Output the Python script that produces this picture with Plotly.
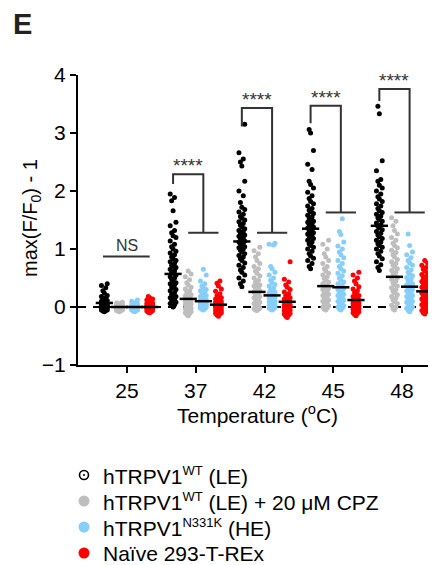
import plotly.graph_objects as go

# ---------------- data ----------------
temps = ["25", "37", "42", "45", "48"]
SUP = "<sup><span style='font-size:13px'>{}</span></sup>"
series_names = [
    "hTRPV1" + SUP.format("WT") + " (LE)",
    "hTRPV1" + SUP.format("WT") + " (LE) + 20 \u03bcM CPZ",
    "hTRPV1" + SUP.format("N331K") + " (HE)",
    "Na\u00efve 293-T-REx",
]

wt_25 = [-0.08,-0.07,-0.06,-0.05,-0.05,-0.04,-0.03,-0.03,-0.02,-0.02,-0.01,-0.01,0.0,0.0,0.01,0.01,0.02,0.02,0.03,0.03,0.04,0.04,0.05,0.05,0.06,0.07,0.08,0.09,0.1,0.11,0.12,0.14,0.16,0.18,0.2,0.24,0.28,0.33,0.37,0.4]
wt_37 = [0.0,0.02,0.04,0.06,0.08,0.1,0.12,0.14,0.16,0.18,0.2,0.22,0.25,0.28,0.3,0.33,0.35,0.38,0.4,0.42,0.45,0.48,0.5,0.52,0.55,0.58,0.6,0.62,0.65,0.68,0.7,0.72,0.75,0.78,0.8,0.83,0.86,0.9,0.93,0.96,1.0,1.04,1.08,1.14,1.2,1.23,1.28,1.32,1.4,1.46,1.66,1.83,1.89,1.95]
wt_42 = [0.35,0.4,0.45,0.5,0.55,0.6,0.64,0.68,0.72,0.76,0.8,0.83,0.86,0.89,0.92,0.95,0.98,1.0,1.02,1.04,1.06,1.08,1.1,1.12,1.14,1.16,1.18,1.2,1.22,1.24,1.26,1.28,1.3,1.32,1.35,1.38,1.41,1.44,1.47,1.5,1.53,1.56,1.6,1.64,1.68,1.72,1.8,1.92,2.0,2.17,2.43,2.5,2.55,2.66,3.15]
wt_45 = [0.66,0.7,0.75,0.8,0.84,0.88,0.92,0.96,1.0,1.03,1.06,1.09,1.12,1.15,1.18,1.2,1.22,1.24,1.26,1.28,1.3,1.32,1.34,1.36,1.38,1.4,1.42,1.44,1.46,1.48,1.5,1.52,1.55,1.58,1.61,1.64,1.67,1.7,1.74,1.78,1.82,1.87,1.92,1.98,2.05,2.11,2.17,2.37,2.46,2.7,3.0,3.06]
wt_48 = [0.63,0.68,0.73,0.78,0.83,0.88,0.92,0.96,1.0,1.03,1.06,1.09,1.12,1.15,1.18,1.21,1.24,1.27,1.3,1.33,1.36,1.39,1.42,1.45,1.48,1.51,1.54,1.57,1.6,1.63,1.66,1.7,1.74,1.78,1.82,1.86,1.9,1.95,2.0,2.05,2.1,2.17,2.2,2.35,2.52,3.33,3.46]

cpz_25 = [-0.08,-0.07,-0.06,-0.06,-0.05,-0.05,-0.04,-0.04,-0.03,-0.03,-0.02,-0.02,-0.01,-0.01,0.0,0.0,0.0,0.01,0.01,0.02,0.02,0.03,0.03,0.04,0.04,0.05,0.06,0.07,0.08,-0.01]
cpz_37 = [-0.15,-0.13,-0.11,-0.1,-0.08,-0.07,-0.05,-0.04,-0.03,-0.02,0.0,0.01,0.02,0.04,0.05,0.06,0.08,0.09,0.1,0.12,0.13,0.15,0.17,0.19,0.21,0.23,0.25,0.28,0.31,0.34,0.38,0.42,0.47,0.52,0.57,0.62]
cpz_42 = [-0.06,-0.05,-0.04,-0.03,-0.02,0.0,0.02,0.04,0.06,0.08,0.1,0.12,0.14,0.16,0.18,0.2,0.22,0.24,0.26,0.28,0.3,0.32,0.34,0.36,0.38,0.4,0.43,0.46,0.5,0.54,0.58,0.62,0.66,0.7,0.75,0.8,0.86,0.92,0.97,1.03]
cpz_45 = [-0.05,-0.04,-0.02,0.0,0.02,0.04,0.06,0.08,0.1,0.12,0.14,0.16,0.18,0.2,0.22,0.24,0.26,0.28,0.3,0.32,0.34,0.36,0.38,0.4,0.43,0.46,0.49,0.52,0.55,0.58,0.62,0.66,0.7,0.75,0.8,0.86,0.92,1.0,1.08,1.15]
cpz_48 = [-0.05,-0.03,0.0,0.03,0.06,0.09,0.12,0.15,0.18,0.21,0.24,0.27,0.3,0.33,0.36,0.39,0.42,0.45,0.48,0.51,0.54,0.57,0.6,0.63,0.66,0.69,0.72,0.75,0.78,0.82,0.86,0.9,0.94,0.98,1.02,1.06,1.1,1.15,1.2,1.26,1.32,1.4,1.48,1.54]

n331k_25 = [-0.08,-0.07,-0.06,-0.05,-0.05,-0.04,-0.04,-0.03,-0.03,-0.02,-0.02,-0.01,-0.01,0.0,0.0,0.01,0.01,0.02,0.02,0.03,0.03,0.04,0.05,0.06,0.07,0.08,0.1,0.12,0.0,-0.01]
n331k_37 = [-0.05,-0.04,-0.03,-0.02,-0.01,0.0,0.0,0.01,0.02,0.03,0.03,0.04,0.05,0.06,0.07,0.08,0.09,0.1,0.11,0.12,0.13,0.14,0.16,0.18,0.2,0.22,0.24,0.26,0.28,0.3,0.33,0.36,0.4,0.45,0.55,0.65]
n331k_42 = [-0.05,-0.04,-0.03,-0.02,-0.01,0.0,0.01,0.02,0.03,0.05,0.06,0.08,0.09,0.1,0.12,0.13,0.15,0.16,0.18,0.2,0.22,0.24,0.26,0.28,0.3,0.33,0.36,0.39,0.42,0.46,0.5,0.55,0.6,0.66,0.7,1.07,1.08,1.1,0.04,0.11]
n331k_45 = [-0.05,-0.04,-0.02,0.0,0.02,0.04,0.06,0.08,0.1,0.12,0.14,0.16,0.18,0.2,0.22,0.24,0.26,0.28,0.3,0.32,0.34,0.36,0.38,0.4,0.43,0.46,0.5,0.54,0.58,0.62,0.66,0.7,0.75,0.8,0.85,0.9,0.95,1.0,1.05,1.12,1.25,1.3,1.52]
n331k_48 = [-0.08,-0.06,-0.04,-0.02,0.0,0.02,0.04,0.06,0.08,0.1,0.12,0.14,0.16,0.18,0.2,0.22,0.24,0.26,0.28,0.3,0.32,0.34,0.36,0.38,0.4,0.42,0.45,0.48,0.51,0.54,0.57,0.6,0.64,0.68,0.72,0.76,0.8,0.85,0.9,0.95,1.06,1.26]

naive_25 = [-0.1,-0.09,-0.08,-0.07,-0.06,-0.05,-0.05,-0.04,-0.03,-0.03,-0.02,-0.02,-0.01,-0.01,0.0,0.0,0.01,0.01,0.02,0.03,0.03,0.04,0.05,0.06,0.07,0.08,0.09,0.1,0.12,0.14,0.16,0.18]
naive_37 = [-0.16,-0.14,-0.12,-0.11,-0.1,-0.09,-0.08,-0.07,-0.06,-0.05,-0.04,-0.03,-0.02,-0.01,0.0,0.0,0.01,0.02,0.03,0.04,0.05,0.06,0.07,0.08,0.09,0.1,0.11,0.12,0.14,0.16,0.18,0.2,0.23,0.27,0.31,0.36,0.41,0.45]
naive_42 = [-0.18,-0.16,-0.14,-0.12,-0.11,-0.1,-0.08,-0.07,-0.06,-0.05,-0.04,-0.03,-0.02,-0.01,0.0,0.01,0.02,0.03,0.04,0.05,0.06,0.07,0.08,0.09,0.1,0.11,0.12,0.14,0.16,0.18,0.2,0.23,0.26,0.3,0.34,0.38,0.43,0.48,0.78,0.0]
naive_45 = [-0.15,-0.13,-0.11,-0.1,-0.08,-0.07,-0.06,-0.05,-0.04,-0.03,-0.02,-0.01,0.0,0.01,0.02,0.03,0.04,0.05,0.06,0.07,0.08,0.09,0.1,0.11,0.12,0.13,0.14,0.16,0.18,0.2,0.22,0.25,0.28,0.31,0.35,0.4,0.45,0.5,0.55,0.6]
naive_48 = [-0.12,-0.1,-0.08,-0.06,-0.04,-0.02,0.0,0.02,0.04,0.06,0.08,0.1,0.12,0.14,0.16,0.18,0.2,0.22,0.24,0.26,0.28,0.3,0.32,0.34,0.36,0.38,0.4,0.42,0.44,0.46,0.48,0.5,0.53,0.56,0.59,0.62,0.65,0.68,0.72,0.76,0.8]

means_wt = [0.07, 0.57, 1.13, 1.35, 1.40]
means_cpz = [0.0, 0.14, 0.26, 0.36, 0.52]
means_n331k = [0.0, 0.10, 0.20, 0.34, 0.35]
means_naive = [0.0, 0.04, 0.09, 0.12, 0.27]

# significance brackets for 37, 42, 45, 48
bracket_top = [2.29, 3.43, 3.47, 3.76]
bracket_leg_end = [2.12, 3.11, 3.17, 3.55]
bracket_cross = [1.28, 1.28, 1.63, 1.63]
bracket_label = ["****", "****", "****", "****"]
ns_level = 0.87
ns_label = "NS"

# ---------------- styling ----------------
FONT = "Liberation Sans, Arial, sans-serif"
colors = ["#000000", "#bebebe", "#87cefa", "#ff0000"]
offsets = [-0.33, -0.11, 0.11, 0.33]
swarm = [0, -1, 1, -2, 2]
swarm_step = 0.021
mean_half = 0.125
line_col = "#333333"

groups = [
    [wt_25, wt_37, wt_42, wt_45, wt_48],
    [cpz_25, cpz_37, cpz_42, cpz_45, cpz_48],
    [n331k_25, n331k_37, n331k_42, n331k_45, n331k_48],
    [naive_25, naive_37, naive_42, naive_45, naive_48],
]
means = [means_wt, means_cpz, means_n331k, means_naive]

XMIN, XMAX = -0.713, 4.494
fig = go.Figure()

# dashed zero line
fig.add_trace(go.Scatter(x=[XMIN, XMAX], y=[0, 0], mode="lines",
                         line=dict(color="#000000", width=2, dash="8px,7px"),
                         showlegend=False, hoverinfo="skip"))

# points
for s in range(4):
    xs, ys = [], []
    for g in range(5):
        vals = sorted(groups[s][g])
        for k, v in enumerate(vals):
            xs.append(g + offsets[s] + swarm[k % 5] * swarm_step)
            ys.append(v)
    fig.add_trace(go.Scatter(x=xs, y=ys, mode="markers",
                             marker=dict(size=5, color=colors[s], line=dict(width=0)),
                             showlegend=False, cliponaxis=False))

# mean lines
mx, my = [], []
for s in range(4):
    for g in range(5):
        c = g + offsets[s]
        mx += [c - mean_half, c + mean_half, None]
        my += [means[s][g], means[s][g], None]
fig.add_trace(go.Scatter(x=mx, y=my, mode="lines",
                         line=dict(color="#000000", width=2.5),
                         showlegend=False, hoverinfo="skip"))

# brackets
bx, by = [], []
annotations = []
for i in range(4):
    g = i + 1
    left = g + offsets[0]
    right = g + offsets[2]
    bx += [left, left, right, right, None]
    by += [bracket_leg_end[i], bracket_top[i], bracket_top[i], bracket_cross[i], None]
    bx += [g + offsets[1], g + offsets[3], None]
    by += [bracket_cross[i], bracket_cross[i], None]
    annotations.append(dict(x=(left + right) / 2, y=bracket_top[i], xref="x", yref="y",
                            text=bracket_label[i], showarrow=False, yanchor="bottom",
                            yshift=-4, font=dict(family=FONT, size=19, color=line_col)))
bx += [0 + offsets[0] - 0.02, 0 + offsets[3], None]
by += [ns_level, ns_level, None]
annotations.append(dict(x=0, y=ns_level, xref="x", yref="y", text=ns_label,
                        showarrow=False, yanchor="bottom", yshift=1,
                        font=dict(family=FONT, size=16, color=line_col)))
fig.add_trace(go.Scatter(x=bx, y=by, mode="lines",
                         line=dict(color=line_col, width=2),
                         showlegend=False, hoverinfo="skip", cliponaxis=False))

# geometry: the page body adds an 8px offset, so figure coords = screen - 8
OFF = 8
W, H = 436 - OFF, 565 - OFF
L, R, T, B = 78 - OFF, 436 - OFF, 75 - OFF, 365 - OFF
def px(x):  # screen x -> paper
    return (x - OFF - L) / (R - L)
def py(y):  # screen y -> paper
    return (B - (y - OFF)) / (B - T)

# axis titles, panel letter
annotations.append(dict(x=0.5, y=py(414), xref="paper", yref="paper",
                        text="Temperature (<sup>o</sup>C)", showarrow=False,
                        xanchor="center", yanchor="middle",
                        font=dict(family=FONT, size=21, color="#000")))
annotations.append(dict(x=px(31), y=py(218), xref="paper", yref="paper",
                        text="max(F/F<sub>0</sub>) - 1", showarrow=False, textangle=-90,
                        xanchor="center", yanchor="middle",
                        font=dict(family=FONT, size=20, color="#000")))
annotations.append(dict(x=px(11), y=py(24), xref="paper", yref="paper",
                        text="<b>E</b>", showarrow=False, xanchor="left", yanchor="middle",
                        font=dict(family=FONT, size=29, color="#222")))

# legend (manual)
rows = [475, 501, 527, 553]
shapes = []
for s in range(4):
    annotations.append(dict(x=px(101), y=py(rows[s]), xref="paper", yref="paper",
                            text=series_names[s], showarrow=False,
                            xanchor="left", yanchor="middle",
                            font=dict(family=FONT, size=21, color="#000")))
    if s == 0:
        shapes.append(dict(type="circle", xref="paper", yref="paper",
                           xsizemode="pixel", ysizemode="pixel",
                           xanchor=px(84), yanchor=py(rows[s]),
                           x0=-4.5, x1=4.5, y0=-4.5, y1=4.5,
                           line=dict(color="#000", width=1.6), fillcolor="rgba(0,0,0,0)"))
        shapes.append(dict(type="circle", xref="paper", yref="paper",
                           xsizemode="pixel", ysizemode="pixel",
                           xanchor=px(84), yanchor=py(rows[s]),
                           x0=-1, x1=1, y0=-1, y1=1,
                           line=dict(color="#000", width=0), fillcolor="#000"))
    else:
        shapes.append(dict(type="circle", xref="paper", yref="paper",
                           xsizemode="pixel", ysizemode="pixel",
                           xanchor=px(84), yanchor=py(rows[s]),
                           x0=-5.5, x1=5.5, y0=-5.5, y1=5.5,
                           line=dict(color=colors[s], width=0), fillcolor=colors[s]))

fig.update_layout(
    width=W, height=H,
    margin=dict(l=L, r=W - R, t=T, b=H - B),
    plot_bgcolor="white", paper_bgcolor="white",
    showlegend=False,
    annotations=annotations, shapes=shapes,
    font=dict(family=FONT, size=20, color="#000"),
)
fig.update_xaxes(range=[XMIN, XMAX], tickvals=list(range(5)), ticktext=temps,
                 showline=True, linecolor="#000", linewidth=2,
                 ticks="outside", ticklen=6, tickwidth=2, tickcolor="#000",
                 showgrid=False, zeroline=False,
                 tickfont=dict(family=FONT, size=21, color="#000"))
fig.update_yaxes(range=[-1, 4], tickvals=[-1, 0, 1, 2, 3, 4],
                 ticktext=["\u22121", "0", "1", "2", "3", "4"],
                 showline=True, linecolor="#000", linewidth=2,
                 ticks="outside", ticklen=6, tickwidth=2, tickcolor="#000",
                 showgrid=False, zeroline=False,
                 tickfont=dict(family=FONT, size=21, color="#000"))

fig.write_html("out.html")
